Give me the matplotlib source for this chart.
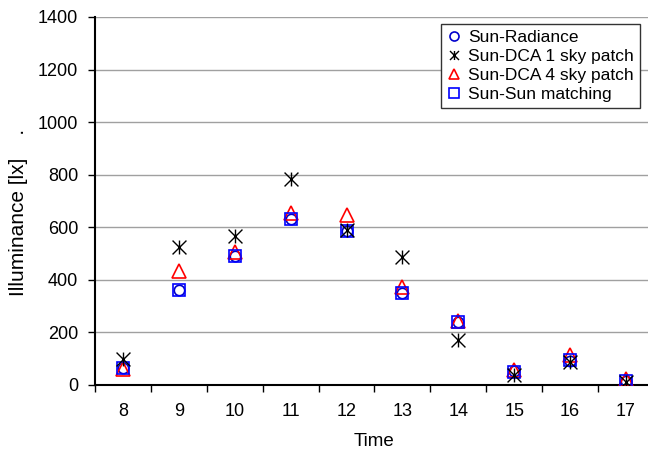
import matplotlib
matplotlib.use("Agg")
import matplotlib.pyplot as plt
from matplotlib.path import Path

# data
hours = [8, 9, 10, 11, 12, 13, 14, 15, 16, 17]
sun_radiance = [66, 361, 490, 630, 585, 351, 238, 52, 92, 16]
sun_dca_1 = [97, 525, 565, 783, 590, 488, 171, 38, 88, 10]
sun_dca_4 = [60, 434, 505, 655, 645, 374, 245, 58, 115, 22]
sun_sun = [65, 362, 490, 630, 585, 351, 238, 51, 95, 16]

plt.rcParams['font.family'] = ['Liberation Sans', 'DejaVu Sans']

# excel style star: an X with a vertical bar
star = Path([(-1, -1), (1, 1), (-1, 1), (1, -1), (0, -1), (0, 1)],
            [Path.MOVETO, Path.LINETO, Path.MOVETO, Path.LINETO, Path.MOVETO, Path.LINETO])

fig = plt.figure(figsize=(6.48, 4.54), dpi=100)
ax = fig.add_axes([0.1466, 0.152, 0.8626, 0.8106])

x = list(range(len(hours)))
ax.plot(x, sun_radiance, linestyle='none', marker='o', markersize=7.5,
        markerfacecolor='none', markeredgecolor='#0000cc', markeredgewidth=1.2,
        label='Sun-Radiance', zorder=3)
ax.plot(x, sun_dca_1, linestyle='none', marker=star, markersize=10,
        markeredgecolor='black', markeredgewidth=1.0,
        label='Sun-DCA 1 sky patch', zorder=4)
ax.plot(x, sun_dca_4, linestyle='none', marker='^', markersize=10,
        markerfacecolor='none', markeredgecolor='#ff0000', markeredgewidth=1.2,
        label='Sun-DCA 4 sky patch', zorder=3)
ax.plot(x, sun_sun, linestyle='none', marker='s', markersize=8.5,
        markerfacecolor='none', markeredgecolor='#0000ff', markeredgewidth=1.2,
        label='Sun-Sun matching', zorder=3)

ax.set_xlim(-0.5, len(hours) - 0.5)
ax.set_ylim(0, 1400)
ax.set_yticks(range(0, 1401, 200))
ax.set_xticks(x)
ax.set_xticklabels([str(h) for h in hours])
ax.set_xticks([i - 0.5 for i in range(len(hours) + 1)], minor=True)
ax.tick_params(axis='x', which='major', length=0, labelsize=13, pad=13)
ax.tick_params(axis='x', which='minor', length=5, width=1, direction='out')
ax.tick_params(axis='y', length=5, width=1, direction='out', labelsize=13, pad=7)

ax.yaxis.grid(True, color='#a0a0a0', linewidth=1)
ax.set_axisbelow(True)
for s in ['top', 'right']:
    ax.spines[s].set_visible(False)
ax.spines['left'].set_linewidth(1.5)
ax.spines['bottom'].set_linewidth(1.5)

ax.set_xlabel('Time', fontsize=13.5, labelpad=9)
ax.set_ylabel('Illuminance [lx]    .', fontsize=15)
ax.yaxis.set_label_coords(-0.12, 0.47)

leg = ax.legend(loc='upper left', bbox_to_anchor=(0.619, 0.981), fontsize=12.5,
                fancybox=False, framealpha=1, edgecolor='#333333',
                handlelength=0.8, handletextpad=0.4, borderpad=0.35,
                labelspacing=0.22, borderaxespad=0)
leg.get_frame().set_linewidth(1.0)
for h in leg.legend_handles:
    h.set_markersize(6.5)

fig.savefig('out.png', dpi=100)
